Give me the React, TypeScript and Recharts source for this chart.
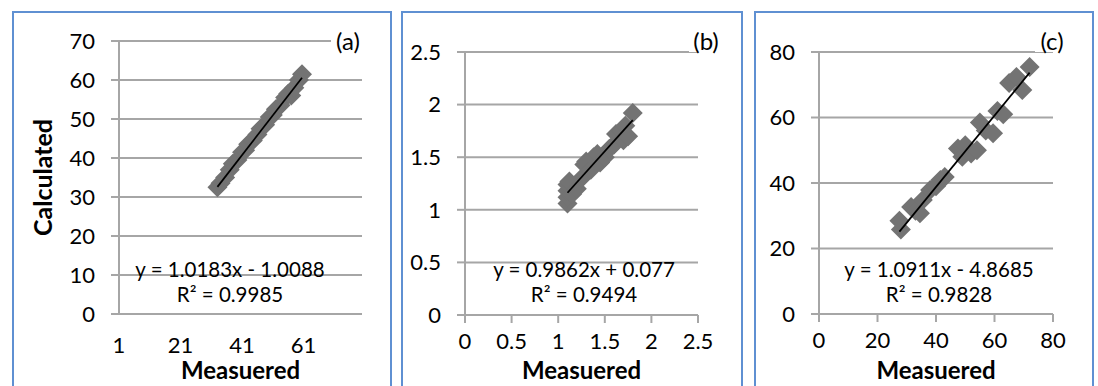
import React from "react";
import {
  ScatterChart,
  Scatter,
  XAxis,
  YAxis,
  CartesianGrid,
  Label,
} from "recharts";

// panel (a)
const measuredA = [33, 34, 35.5, 37, 38, 39.5, 41, 42, 43, 44.5, 46, 47, 48.5, 50, 51, 52, 53.5, 55, 56, 57, 58, 59.5, 60.5];
const calculatedA = [32.5, 33.5, 35, 37, 38.5, 39.5, 41.5, 42, 43.5, 44.5, 46, 47.5, 48.5, 50.5, 51, 52.5, 53.5, 55.5, 56.5, 56, 58, 60, 61.5];
const xTicksA = [1, 21, 41, 61];
const yTicksA = [0, 10, 20, 30, 40, 50, 60, 70];

// panel (b)
const measuredB = [1.1, 1.1, 1.1, 1.1, 1.12, 1.15, 1.2, 1.25, 1.28, 1.3, 1.35, 1.38, 1.42, 1.45, 1.5, 1.55, 1.6, 1.62, 1.68, 1.7, 1.72, 1.75, 1.8];
const calculatedB = [1.06, 1.12, 1.18, 1.24, 1.27, 1.15, 1.2, 1.3, 1.43, 1.46, 1.38, 1.5, 1.53, 1.45, 1.5, 1.58, 1.62, 1.72, 1.75, 1.66, 1.8, 1.7, 1.92];
const ticksB = [0, 0.5, 1, 1.5, 2, 2.5];

// panel (c)
const measuredC = [27.5, 28, 31.5, 33, 34.5, 35.5, 38, 40, 41.5, 43, 47.5, 49, 50, 52, 54, 55, 57, 59.5, 61, 63, 65, 67.5, 69.5, 72];
const calculatedC = [28.5, 25.8, 32.7, 31.5, 30.8, 34.8, 37.9, 39, 40.9, 41.8, 50.5, 48, 51.5, 49, 50, 58.5, 56, 55.2, 62, 61, 70.5, 72.4, 68.4, 75.4];
const ticksC = [0, 20, 40, 60, 80];

// trendlines as printed on the chart
const fitA = { slope: 1.0183, intercept: -1.0088, from: 33, to: 60.5 };
const fitB = { slope: 0.9862, intercept: 0.077, from: 1.1, to: 1.8 };
const fitC = { slope: 1.0911, intercept: -4.8685, from: 27.5, to: 72 };

const GRID = "#A6A6A6";
const FONT = "Lato, 'Open Sans', sans-serif";

const toPoints = (xs: number[], ys: number[]) => xs.map((x, i) => ({ x, y: ys[i] }));
const segment = (f: typeof fitA) => [
  { x: f.from, y: f.slope * f.from + f.intercept },
  { x: f.to, y: f.slope * f.to + f.intercept },
];

const Diamond = (props: any) => {
  const { cx, cy } = props;
  const r = 10;
  return (
    <polygon
      points={`${cx},${cy - r} ${cx + r},${cy} ${cx},${cy + r} ${cx - r},${cy}`}
      fill="#737373"
    />
  );
};

const NoDot = () => <g />;

const tickStyle = { fill: "#000", fontSize: 22, fontFamily: FONT };
const titleStyle = { fill: "#000", fontSize: 24, fontWeight: 700, fontFamily: FONT };

interface PanelProps {
  left: number;
  width: number;
  top: number;
  right: number;
  yAxisWidth: number;
  xAxisHeight: number;
  data: { x: number; y: number }[];
  fit: typeof fitA;
  xDomain: [number, number];
  xTicks: number[];
  yDomain: [number, number];
  yTicks: number[];
  xTickLines: boolean;
  yTitle?: string;
}

function Panel(p: PanelProps) {
  return (
    <div style={{ position: "absolute", left: p.left, top: 0 }}>
      <ScatterChart
        width={p.width}
        height={386}
        margin={{ top: p.top, right: p.right, left: 0, bottom: 0 }}
        style={{ fontFamily: FONT }}
      >
        <CartesianGrid vertical={false} stroke={GRID} strokeWidth={2} />
        <XAxis
          type="number"
          dataKey="x"
          domain={p.xDomain}
          ticks={p.xTicks}
          allowDataOverflow
          height={p.xAxisHeight}
          fontSize={22}
          tick={tickStyle}
          tickLine={p.xTickLines ? { stroke: GRID, strokeWidth: 2 } : false}
          tickSize={8}
          tickMargin={p.xTickLines ? 10 : 15}
          axisLine={{ stroke: GRID, strokeWidth: 2 }}
        >
          <Label value="Measuered" position="insideBottom" offset={7} style={titleStyle} />
        </XAxis>
        <YAxis
          type="number"
          dataKey="y"
          domain={p.yDomain}
          ticks={p.yTicks}
          allowDataOverflow
          width={p.yAxisWidth}
          fontSize={22}
          tick={tickStyle}
          tickLine={{ stroke: GRID, strokeWidth: 2 }}
          tickSize={8}
          tickMargin={16}
          axisLine={{ stroke: GRID, strokeWidth: 2 }}
        >
          {p.yTitle && (
            <Label
              value={p.yTitle}
              angle={-90}
              position="insideLeft"
              offset={31}
              style={{ ...titleStyle, fontSize: 25, textAnchor: "middle" }}
            />
          )}
        </YAxis>
        <Scatter data={p.data} shape={Diamond} isAnimationActive={false} />
        <Scatter
          data={segment(p.fit)}
          shape={NoDot}
          line={{ stroke: "#000", strokeWidth: 1.75 }}
          isAnimationActive={false}
        />
      </ScatterChart>
    </div>
  );
}

const frames = [
  { left: 12, width: 380 },
  { left: 401, width: 342 },
  { left: 754, width: 340 },
];

const notes = [
  { tag: "(a)", tx: 348, eq: "y = 1.0183x - 1.0088", r2: "R² = 0.9985", ex: 230 },
  { tag: "(b)", tx: 706, eq: "y = 0.9862x + 0.077", r2: "R² = 0.9494", ex: 584 },
  { tag: "(c)", tx: 1052, eq: "y = 1.0911x - 4.8685", r2: "R² = 0.9828", ex: 939 },
];

export default function App() {
  return (
    <div
      style={{
        position: "absolute",
        left: 0,
        top: 0,
        width: 1098,
        height: 386,
        overflow: "hidden",
        background: "#fff",
        fontFamily: FONT,
      }}
    >
      {frames.map((f, i) => (
        <div
          key={i}
          style={{
            position: "absolute",
            left: f.left,
            top: 11,
            width: f.width,
            height: 420,
            border: "2px solid #5F90D2",
            boxSizing: "border-box",
          }}
        />
      ))}
      <Panel
        left={12}
        width={380}
        top={41}
        right={30}
        yAxisWidth={107}
        xAxisHeight={72}
        data={toPoints(measuredA, calculatedA)}
        fit={fitA}
        xDomain={[1, 80]}
        xTicks={xTicksA}
        yDomain={[0, 70]}
        yTicks={yTicksA}
        xTickLines={false}
        yTitle="Calculated"
      />
      <Panel
        left={401}
        width={342}
        top={52}
        right={45}
        yAxisWidth={64}
        xAxisHeight={71}
        data={toPoints(measuredB, calculatedB)}
        fit={fitB}
        xDomain={[0, 2.5]}
        xTicks={ticksB}
        yDomain={[0, 2.5]}
        yTicks={ticksB}
        xTickLines
      />
      <Panel
        left={754}
        width={340}
        top={52}
        right={41}
        yAxisWidth={65}
        xAxisHeight={72}
        data={toPoints(measuredC, calculatedC)}
        fit={fitC}
        xDomain={[0, 80]}
        xTicks={ticksC}
        yDomain={[0, 80]}
        yTicks={ticksC}
        xTickLines
      />
      <svg
        width={1098}
        height={386}
        style={{ position: "absolute", left: 0, top: 0, pointerEvents: "none" }}
      >
        {notes.map((n) => (
          <g key={n.tag} fontFamily={FONT} fill="#000">
            <rect x={n.tx - 17} y={30} width={34} height={22} fill="#fff" />
            <text x={n.tx} y={50} fontSize={24} textAnchor="middle">
              {n.tag}
            </text>
            <text x={n.ex} y={277} fontSize={20.5} textAnchor="middle">
              {n.eq}
            </text>
            <text x={n.ex} y={302} fontSize={20.5} textAnchor="middle">
              {n.r2}
            </text>
          </g>
        ))}
      </svg>
    </div>
  );
}
